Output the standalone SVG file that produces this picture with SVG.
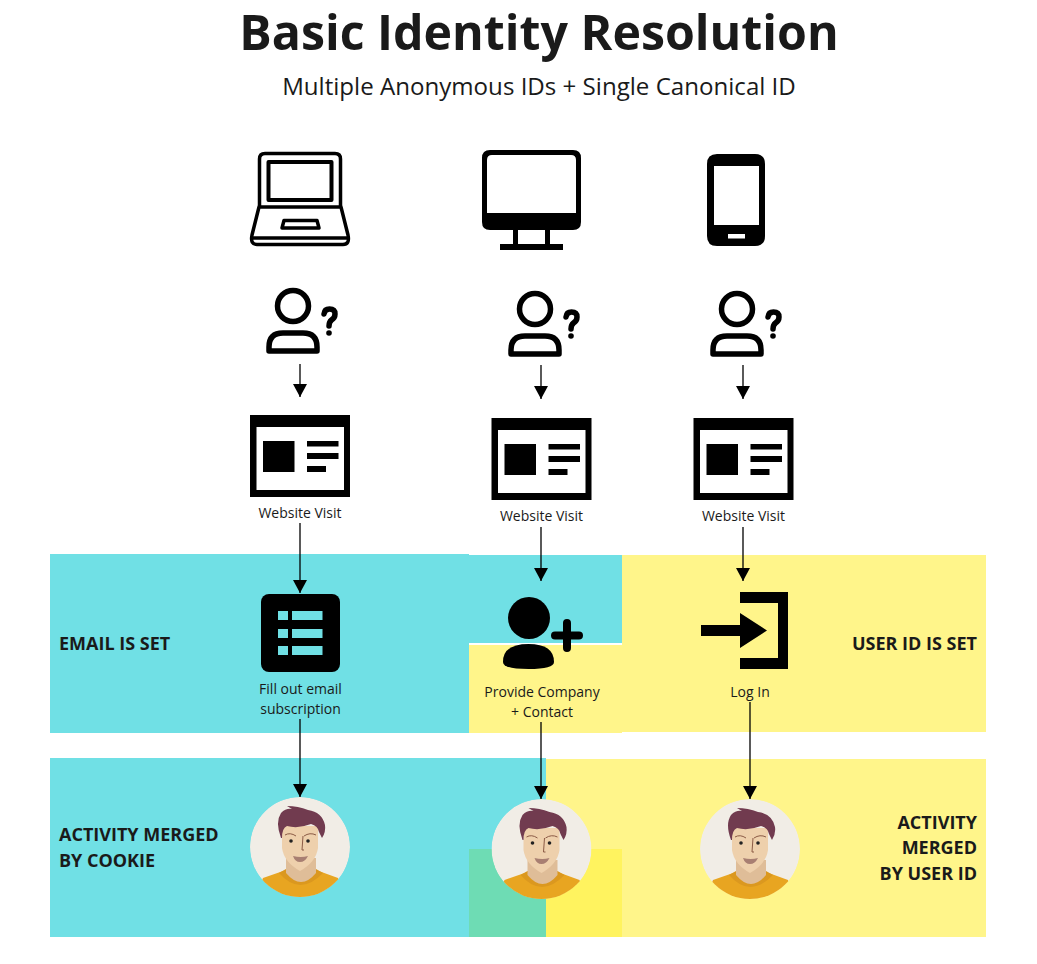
<svg xmlns="http://www.w3.org/2000/svg" width="1037" height="964" viewBox="0 0 1037 964">
<style>
text{font-family:"Open Sans","Liberation Sans",sans-serif;fill:#1a1a1a}
.title{font-size:48.300px;font-weight:700;text-anchor:middle}
.sub{font-size:24.100px;text-anchor:middle}
.cap{font-size:14px;text-anchor:middle}
.lab{font-size:18px;font-weight:700}
.end{text-anchor:end}
.ln{stroke:#000;stroke-width:1.300;fill:none;marker-end:url(#ah)}
.o{fill:none;stroke:#000}
</style>
<defs>
<marker id="ah" markerUnits="userSpaceOnUse" markerWidth="14" markerHeight="14" refX="13" refY="7" orient="auto"><path d="M0 0L13 7L0 14Z" fill="#000"/></marker>
<g id="uq">
<circle class="o" cx="293" cy="306" r="15.500" stroke-width="5.500"/>
<path class="o" stroke-width="5.500" d="M269 351V347Q269 333 283 333H303Q317 333 317 347V351Z" stroke-linejoin="round"/>
<path class="o" stroke-width="5.500" stroke-linecap="round" d="M324 314Q324.500 309 329.500 309Q335 309 335 314Q335 318 331.500 320Q329 322 329 326"/>
<circle cx="329" cy="333" r="2.800"/>
</g>
<g id="web">
<path fill-rule="evenodd" d="M250 415H350V497H250ZM256.500 427V490H344V427Z"/>
<rect x="263" y="441" width="31.500" height="31"/>
<rect x="307" y="441" width="31.500" height="5.500"/>
<rect x="307" y="453" width="31.500" height="6"/>
<rect x="307" y="466" width="19" height="6"/>
</g>
<clipPath id="cc"><circle cx="300" cy="847" r="50"/></clipPath>
<g id="av" clip-path="url(#cc)">
<circle cx="300" cy="847" r="50" fill="#f1ede6"/>
<path d="M263 878L286 870H316L338 878L345 900H255Z" fill="#e8a521"/>
<path d="M279 873Q300 897 323 873L316 869H286Z" fill="#db981f"/>
<path d="M286 858H316V873Q301 891 286 873Z" fill="#dfbd98"/>
<path d="M282 826H318V848Q316 862 300 871Q284 862 282 848Z" fill="#eed0ac"/>
<path d="M281 838Q275 822 281 813Q286 808 292 809L287 806Q298 806 308 810Q322 812 325 825Q326 832 322 838L319 832Q318 826 311 824Q298 829 287 826Q282 828 282 838Z" fill="#713b4f"/>
<circle cx="291" cy="841" r="1.800" fill="#222"/><circle cx="308" cy="841" r="1.800" fill="#222"/>
<path d="M285 835Q290 832 296 836M304 836Q310 832 316 835" fill="none" stroke="#8a5a45" stroke-width="1"/>
<path d="M303 836L302 850H304" fill="none" stroke="#8a5a45" stroke-width="1"/>
<path d="M293 856Q301 858 308 856Q305 862 300 862Q295 862 293 856Z" fill="#a87f72"/>
</g>
</defs>
<rect width="1037" height="964" fill="#fff"/>
<g id="bands">
<rect x="50" y="554" width="419" height="179" fill="#70e0e5"/>
<rect x="469" y="555" width="153" height="88" fill="#70e0e5"/>
<rect x="469" y="645" width="153" height="88" fill="#fff58a"/>
<rect x="622" y="555" width="364" height="177" fill="#fff58a"/>
<rect x="50" y="758" width="496" height="179" fill="#70e0e5"/>
<rect x="546" y="759" width="440" height="178" fill="#fff58a"/>
<rect x="469" y="849" width="77" height="88" fill="#6edcb4"/>
<rect x="546" y="849" width="76" height="88" fill="#fff35f"/>
</g>
<text class="title" x="539" y="50">Basic Identity Resolution</text>
<text class="sub" x="539" y="95">Multiple Anonymous IDs + Single Canonical ID</text>
<g id="connectors">
<path class="ln" d="M300 364V397"/>
<path class="ln" d="M541 365V399"/>
<path class="ln" d="M743 365V399"/>
<path class="ln" d="M300 523V593"/>
<path class="ln" d="M541 527V581"/>
<path class="ln" d="M743 527V581"/>
<path class="ln" d="M300 719V797"/>
<path class="ln" d="M541 722V799"/>
<path class="ln" d="M750 702V799"/>
</g>
<g id="laptop" class="o" stroke-width="3.500" stroke-linejoin="round">
<path d="M259.500 206V159Q259.500 153.500 265 153.500H335Q340.500 153.500 340.500 159V206"/>
<rect x="268.500" y="162" width="63" height="38" stroke-width="4"/>
<path d="M259 207H341L348 235Q350 244.500 343 244.500H257Q250 244.500 252 235Z"/>
<path d="M252 238H348"/>
<path d="M284 220.500H317L319 228H282Z"/>
</g>
<g id="monitor">
<path fill-rule="evenodd" d="M490 150H573Q581 150 581 158V222Q581 230 573 230H490Q482 230 482 222V158Q482 150 490 150ZM492 155Q487 155 487 160V213H576V160Q576 155 571 155Z"/>
<path fill-rule="evenodd" d="M513 230H518V244H545V230H550V244H563V250H500V244H513Z"/>
</g>
<g id="phone">
<path fill-rule="evenodd" d="M717 154H755Q765 154 765 164V236Q765 246 755 246H717Q707 246 707 236V164Q707 154 717 154ZM714 166V225H759V166ZM728 234V238.500H745V234Z"/>
</g>
<g id="anon-1"><use href="#uq"/></g>
<g id="anon-2"><use href="#uq" x="242" y="3"/></g>
<g id="anon-3"><use href="#uq" x="444" y="3"/></g>
<g id="visit-1"><use href="#web"/><text class="cap" x="300" y="518">Website Visit</text></g>
<g id="visit-2"><use href="#web" x="241.500" y="3"/><text class="cap" x="541.500" y="521">Website Visit</text></g>
<g id="visit-3"><use href="#web" x="443.500" y="3"/><text class="cap" x="743.500" y="521">Website Visit</text></g>
<g id="form">
<rect x="261" y="594" width="79" height="78" rx="8"/>
<g fill="#70e0e5">
<rect x="278" y="611" width="10" height="9"/><rect x="292" y="611" width="30.500" height="9"/>
<rect x="278" y="629" width="10" height="9"/><rect x="292" y="629" width="30.500" height="9"/>
<rect x="278" y="646" width="10" height="9"/><rect x="292" y="646" width="30.500" height="9"/>
</g>
<text class="cap" x="300.500" y="694">Fill out email</text>
<text class="cap" x="300.500" y="714">subscription</text>
</g>
<g id="add-user">
<circle cx="529" cy="618" r="21"/>
<path d="M503 662Q503 644 528.500 644Q554 644 554 662Q554 669 528.500 669Q503 669 503 662Z"/>
<path d="M555 635.500H579M567 623V648" fill="none" stroke="#000" stroke-width="8" stroke-linecap="round"/>
<text class="cap" x="542" y="697">Provide Company</text>
<text class="cap" x="542" y="717">+ Contact</text>
</g>
<g id="login">
<path d="M740 592H788V669H740V658H778V603H740Z"/>
<path d="M701 625H740V613L767 630.500L740 648V636H701Z"/>
<text class="cap" x="750" y="697">Log In</text>
</g>
<g id="labels">
<text class="lab" x="59" y="650">EMAIL IS SET</text>
<text class="lab end" x="977" y="650">USER ID IS SET</text>
<text class="lab" x="59" y="841">ACTIVITY MERGED</text>
<text class="lab" x="59" y="867">BY COOKIE</text>
<text class="lab end" x="977" y="829">ACTIVITY</text>
<text class="lab end" x="977" y="854">MERGED</text>
<text class="lab end" x="977" y="880">BY USER ID</text>
</g>
<g id="person-1"><use href="#av"/></g>
<g id="person-2"><use href="#av" x="241.500" y="2"/></g>
<g id="person-3"><use href="#av" x="450" y="2"/></g>
</svg>
